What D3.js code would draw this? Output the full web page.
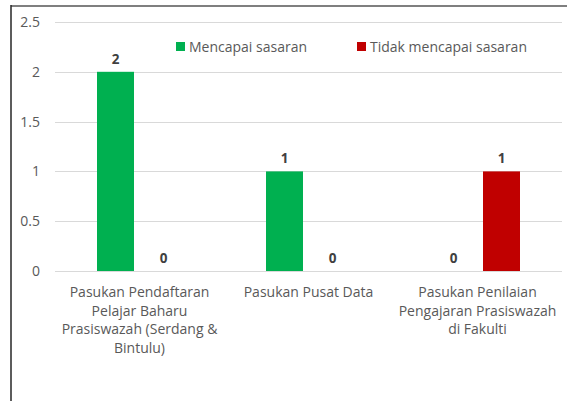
<!DOCTYPE html>
<html>
<head>
<meta charset="utf-8">
<script src="https://cdn.jsdelivr.net/npm/d3@7"></script>
<style>
  body { margin: 0; background: #fff; }
  svg { display: block; font-family: "Open Sans", "Liberation Sans", sans-serif; }
</style>
</head>
<body>
<div id="chart"></div>
<script>
// chart data
var categories = [
  ["Pasukan Pendaftaran", "Pelajar Baharu", "Prasiswazah (Serdang &", "Bintulu)"],
  ["Pasukan Pusat Data"],
  ["Pasukan Penilaian", "Pengajaran Prasiswazah", "di Fakulti"]
];
var seriesNames = ["Mencapai sasaran", "Tidak mencapai sasaran"];
var seriesColors = ["#00b050", "#c00000"];
var mencapai = [2, 1, 0];
var tidakMencapai = [0, 0, 1];
var yTicks = [0, 0.5, 1, 1.5, 2, 2.5];

var width = 567, height = 401;
var plotLeft = 55, plotRight = 562, plotTop = 22, plotBottom = 271;

var svg = d3.select("#chart").append("svg")
  .attr("width", width)
  .attr("height", height);

// frame (only top + left edge show in the crop)
svg.append("line").attr("x1", 11).attr("x2", width).attr("y1", 6).attr("y2", 6)
  .attr("stroke", "#7f7f7f").attr("stroke-width", 2);
svg.append("line").attr("x1", 11).attr("x2", 11).attr("y1", 5).attr("y2", height)
  .attr("stroke", "#262626").attr("stroke-width", 1.5);

var y = d3.scaleLinear().domain([0, 2.5]).range([plotBottom, plotTop]);
var x = d3.scaleBand().domain(d3.range(categories.length))
  .range([plotLeft, plotRight]);
// two bars per group, 37px wide, 11px apart
var xs = d3.scaleBand().domain([0, 1])
  .range([x.bandwidth() / 2 - 42.5, x.bandwidth() / 2 + 42.5])
  .paddingInner(11 / 48).paddingOuter(0);

// gridlines
svg.append("g").selectAll("line").data(yTicks).enter().append("line")
  .attr("x1", plotLeft).attr("x2", plotRight)
  .attr("y1", function(d) { return Math.round(y(d)) + 0.5; })
  .attr("y2", function(d) { return Math.round(y(d)) + 0.5; })
  .attr("stroke", "#d9d9d9").attr("stroke-width", 1);

// y axis labels
svg.append("g").selectAll("text").data(yTicks).enter().append("text")
  .attr("x", 40)
  .attr("y", function(d) { return y(d); })
  .attr("dy", "0.35em")
  .attr("text-anchor", "end")
  .attr("font-size", 14)
  .attr("fill", "#595959")
  .text(function(d) { return d; });

var series = [mencapai, tidakMencapai];
series.forEach(function(vals, s) {
  var g = svg.append("g");
  g.selectAll("rect").data(vals).enter().append("rect")
    .attr("x", function(d, i) { return x(i) + xs(s); })
    .attr("width", xs.bandwidth())
    .attr("y", function(d) { return y(d); })
    .attr("height", function(d) { return y(0) - y(d); })
    .attr("fill", seriesColors[s]);
  g.selectAll("text").data(vals).enter().append("text")
    .attr("x", function(d, i) { return x(i) + xs(s) + xs.bandwidth() / 2; })
    .attr("y", function(d) { return y(d) - 8; })
    .attr("text-anchor", "middle")
    .attr("font-size", 13.5)
    .attr("font-weight", "bold")
    .attr("fill", "#404040")
    .text(function(d) { return d; });
});

// category labels
var cat = svg.append("g").selectAll("text").data(categories).enter().append("text")
  .attr("text-anchor", "middle")
  .attr("font-size", 14)
  .attr("fill", "#595959");
cat.each(function(lines, i) {
  var t = d3.select(this);
  lines.forEach(function(l, j) {
    t.append("tspan")
      .attr("x", x(i) + x.bandwidth() / 2)
      .attr("y", 297 + j * 18.5)
      .text(l);
  });
});

// legend
var legendX = [176, 357];
var leg = svg.append("g").selectAll("g").data(seriesNames).enter().append("g")
  .attr("transform", function(d, i) { return "translate(" + legendX[i] + ",42)"; });
leg.append("rect").attr("width", 9).attr("height", 9)
  .attr("fill", function(d, i) { return seriesColors[i]; });
leg.append("text").attr("x", 13).attr("y", 9.5)
  .attr("font-size", 14).attr("fill", "#595959")
  .text(function(d) { return d; });
</script>
</body>
</html>
